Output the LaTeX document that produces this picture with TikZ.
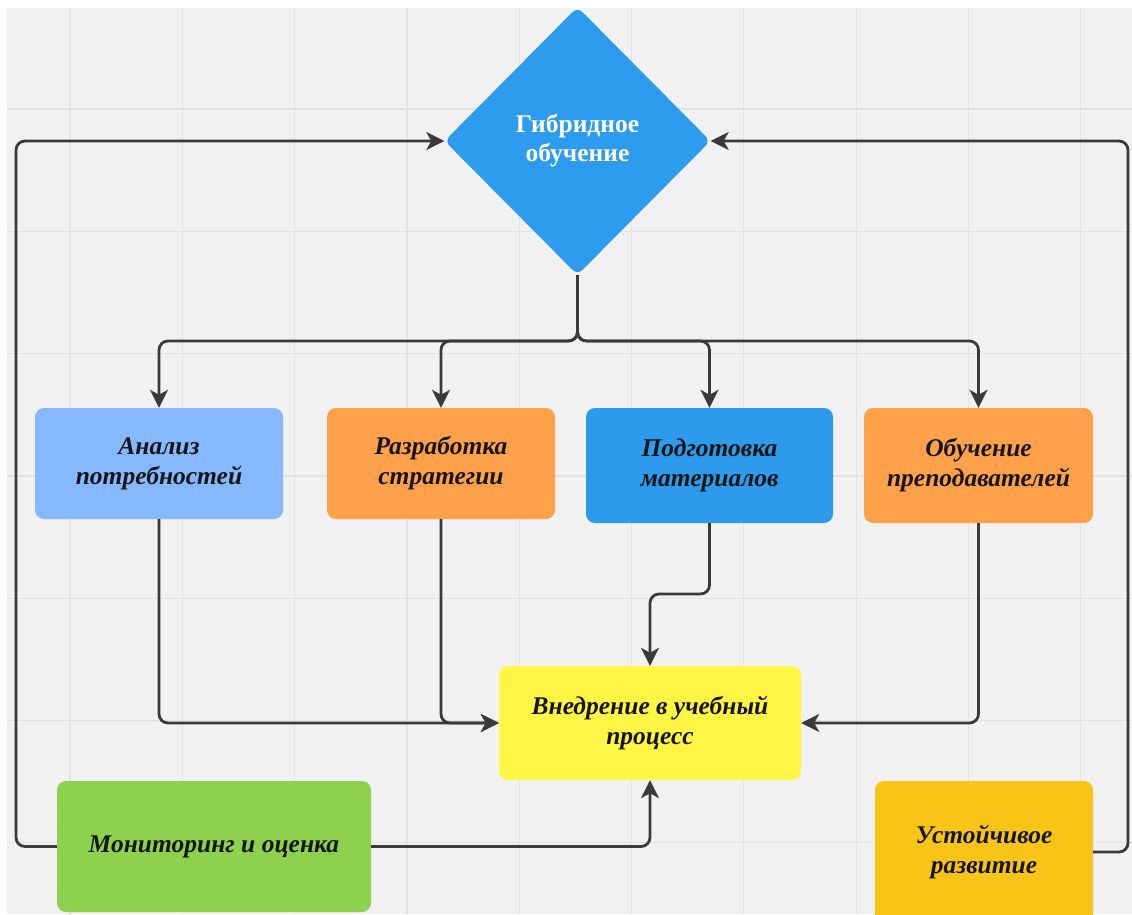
\documentclass[tikz,border=0pt]{standalone}
\usepackage{fontspec}
\setmainfont{Liberation Serif}
\usetikzlibrary{shapes.geometric,arrows.meta}
\definecolor{bg}{HTML}{F1F1F1}
\definecolor{gridc}{HTML}{E2E2E2}
\definecolor{lnc}{HTML}{3A3A3A}
\definecolor{txt}{HTML}{161616}
\definecolor{diac}{HTML}{2D9CEF}
\definecolor{lblue}{HTML}{85B8FF}
\definecolor{orng}{HTML}{FFA04B}
\definecolor{dblue}{HTML}{2D9AEC}
\definecolor{yell}{HTML}{FFF545}
\definecolor{grn}{HTML}{8ED14F}
\definecolor{ambr}{HTML}{F8C516}
\begin{document}
\begin{tikzpicture}[x=1pt,y=-1pt,
  boxnode/.style={rounded corners=9pt, inner sep=0pt, align=center, text=txt,
    font=\fontsize{25.5}{30}\selectfont\bfseries\itshape},
  conn/.style={draw=lnc, line width=2.8pt, rounded corners=9pt,
    -{Stealth[length=18pt,width=18pt,inset=5pt]}},
  gridline/.style={draw=gridc, line width=1.2pt}]
\useasboundingbox (0,0) rectangle (1132,914);
\clip (0,0) rectangle (1132,914);
\fill[white] (0,0) rectangle (1132,914);
\fill[bg] (7,8) rectangle (1132,914);
\foreach \gx in {70,182.3,294.6,406.9,519.2,631.5,743.8,856.1,968.4,1080.7}
  \draw[gridline] (\gx,8) -- (\gx,914);
\foreach \gy in {109,231.3,353.6,475.9,598.2,720.5,842.8}
  \draw[gridline] (7,\gy) -- (1132,\gy);

% nodes
\node[diamond, fill=diac, rounded corners=7pt, minimum width=266pt, minimum height=268pt,
  inner sep=0pt, align=center, text=white, font=\fontsize{25.5}{29}\selectfont\bfseries]
  (dia) at (577.5,141) {Гибридное\\обучение};
\node[boxnode, fill=lblue, minimum width=248pt, minimum height=111pt] (anal) at (159,463.5) {Анализ\\потребностей};
\node[boxnode, fill=orng, minimum width=228pt, minimum height=111pt] (razr) at (441,463.5) {Разработка\\стратегии};
\node[boxnode, fill=dblue, minimum width=247pt, minimum height=115pt] (podg) at (709.5,465.5) {Подготовка\\материалов};
\node[boxnode, fill=orng, minimum width=229pt, minimum height=115pt] (obuch) at (978.5,465.5) {Обучение\\преподавателей};
\node[boxnode, fill=yell, minimum width=302pt, minimum height=114pt] (vned) at (650,723) {Внедрение в учебный\\процесс};
\node[boxnode, fill=grn, minimum width=314pt, minimum height=131pt] (monit) at (214,846.5) {Мониторинг и оценка};
\node[boxnode, fill=ambr, minimum width=218pt, minimum height=142pt] (ustoi) at (984,852) {Устойчивое\\развитие};

% helper coordinates
\coordinate (split) at (577.5,341);
\coordinate (pb) at (650,594);
\coordinate (lc) at (16,0);
\coordinate (rc) at (1128,0);

% connectors
\draw[conn] (dia.south) -- (split) -| (anal.north);
\draw[conn] (dia.south) -- (split) -| (razr.north);
\draw[conn] (dia.south) -- (split) -| (podg.north);
\draw[conn] (dia.south) -- (split) -| (obuch.north);
\draw[conn] (anal.south) |- (vned.west);
\draw[conn] (razr.south) |- (vned.west);
\draw[conn] (obuch.south) |- (vned.east);
\draw[conn] (podg.south) |- (pb) -- (vned.north);
\draw[conn] (monit.east) -| (vned.south);
\draw[conn] (monit.west) -- (monit.west -| lc) |- (dia.west);
\draw[conn] (ustoi.east) -- (ustoi.east -| rc) |- (dia.east);
\end{tikzpicture}
\end{document}
